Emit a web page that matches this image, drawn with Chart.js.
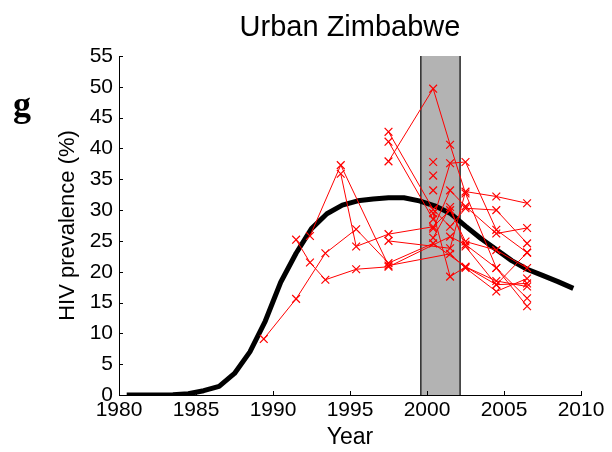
<!DOCTYPE html>
<html><head><meta charset="utf-8">
<script src="https://cdn.jsdelivr.net/npm/chart.js@4/dist/chart.umd.min.js"></script>
<style>html,body{margin:0;padding:0;background:#fff}#wrap{width:612px;height:452px}</style>
</head><body><div id="wrap"><canvas id="c" width="612" height="452"></canvas></div>
<script>
// ---- data ----
const titleText = "Urban Zimbabwe";
const panelLabel = "g";
const xTicks = [1980, 1985, 1990, 1995, 2000, 2005, 2010];
const yTicks = [0, 5, 10, 15, 20, 25, 30, 35, 40, 45, 50, 55];
const shadeStart = 1999.6, shadeEnd = 2002.15;

const modelYears = [1980.5,1981.5,1982.5,1983.5,1984.5,1985.5,1986.5,1987.5,1988.5,1989.5,1990.5,1991.5,1992.5,1993.5,1994.5,1995.5,1996.5,1997.5,1998.5,1999.5,2000.5,2001.5,2002.5,2003.5,2004.5,2005.5,2006.5,2007.5,2008.5,2009.5];
const modelPrev  = [0,0,0,0.05,0.2,0.7,1.4,3.5,7.0,12.0,18.3,23.0,27.0,29.4,30.8,31.5,31.8,32.0,32.0,31.5,30.7,29.5,27.4,25.4,23.6,21.8,20.4,19.4,18.4,17.3];

// antenatal clinic sites: [year, prevalence]
const site1  = [[1989.4,9.1],[1991.5,15.6],[1993.4,23.0],[1995.4,26.9],[1997.5,21.4],[2000.4,24.6],[2002.5,20.8],[2004.5,17.9],[2006.5,18.1]];
const site2  = [[1991.5,25.2],[1992.4,21.5],[1993.4,18.7],[1995.4,20.4],[1997.5,20.8],[2001.5,25.7],[2002.5,24.4],[2004.5,20.6],[2006.5,14.4]];
const site3  = [[1992.4,25.8],[1994.4,37.3],[1997.5,21.0],[2001.5,22.9],[2002.5,20.6],[2004.5,16.8],[2006.5,18.9]];
const site4  = [[1994.4,35.9],[1995.4,24.1],[1997.5,26.1],[2000.4,27.3],[2001.5,30.0],[2002.5,24.9],[2004.5,23.5],[2006.5,20.6]];
const site5  = [[1997.5,25.0],[2001.5,23.8],[2002.5,33.0],[2004.5,32.2],[2006.5,31.1]];
const site6  = [[1997.5,42.7],[2000.4,30.1],[2001.5,27.3],[2002.5,30.3],[2004.5,30.0],[2006.5,24.6]];
const site7  = [[1997.5,41.1],[2000.4,28.5],[2001.5,37.6],[2002.5,37.8],[2004.5,26.8],[2006.5,23.1]];
const site8  = [[1997.5,37.9],[2000.4,49.7],[2001.5,40.6],[2002.5,32.7],[2004.5,20.6],[2006.5,15.7]];
const site9  = [[2000.4,29.5],[2001.5,19.2],[2002.5,20.8],[2004.5,18.5],[2006.5,17.6]];
const site10 = [[2000.4,27.0],[2001.5,33.2],[2002.5,30.6],[2004.5,26.2],[2006.5,27.1]];
const site11 = [[2000.4,25.5],[2001.5,30.5],[2002.5,24.1],[2004.5,17.9],[2006.5,23.1]];
const site12 = [[2000.4,37.8]];
const site13 = [[2000.4,35.6]];
const site14 = [[2000.4,33.2]];
const sites = [site1,site2,site3,site4,site5,site6,site7,site8,site9,site10,site11,site12,site13,site14];

// ---- chart ----
const FONT = "'Liberation Sans', Arial, sans-serif";
const redSets = sites.map(s => ({
  data: s.map(p => ({x: p[0], y: p[1]})),
  borderColor: '#ff0000', backgroundColor: '#ff0000',
  borderWidth: 1, pointStyle: 'crossRot', pointRadius: 5.5, pointBorderWidth: 1.2,
  pointHoverRadius: 5.5, tension: 0, fill: false
}));
const modelSet = {
  data: modelYears.map((y, i) => ({x: y, y: modelPrev[i]})),
  borderColor: '#000', borderWidth: 5, pointRadius: 0, tension: 0, fill: false,
  borderCapStyle: 'butt', borderJoinStyle: 'round'
};

const decor = {
  id: 'decor',
  beforeDatasetsDraw(chart) {
    const {ctx, chartArea: a, scales: {x}} = chart;
    const x0 = x.getPixelForValue(shadeStart), x1 = x.getPixelForValue(shadeEnd);
    ctx.save();
    ctx.fillStyle = '#b3b3b3';
    ctx.fillRect(x0, a.top, x1 - x0, a.bottom - a.top);
    ctx.strokeStyle = '#000'; ctx.lineWidth = 1.2;
    ctx.beginPath();
    ctx.moveTo(x0, a.top); ctx.lineTo(x0, a.bottom);
    ctx.moveTo(x1, a.top); ctx.lineTo(x1, a.bottom);
    ctx.stroke();
    ctx.restore();
  },
  afterDraw(chart) {
    const {ctx, chartArea: a, scales: {x, y}} = chart;
    ctx.save();
    ctx.strokeStyle = '#000'; ctx.lineWidth = 1;
    ctx.beginPath();
    xTicks.forEach(v => { const px = Math.round(x.getPixelForValue(v)) + 0.5; ctx.moveTo(px, a.bottom); ctx.lineTo(px, a.bottom - 4); });
    yTicks.forEach(v => { const py = Math.round(y.getPixelForValue(v)) + 0.5; ctx.moveTo(a.left, py); ctx.lineTo(a.left + 4, py); });
    ctx.stroke();
    ctx.fillStyle = '#000';
    ctx.font = "29px " + FONT;
    ctx.textAlign = 'center'; ctx.textBaseline = 'middle';
    ctx.fillText(titleText, (a.left + a.right) / 2, 28);
    ctx.font = "bold 36px 'Liberation Serif', 'DejaVu Serif', serif";
    ctx.textBaseline = 'alphabetic'; ctx.textAlign = 'left';
    ctx.fillText(panelLabel, 13, 116);
    ctx.restore();
  }
};

new Chart(document.getElementById('c'), {
  type: 'line',
  data: { datasets: [...redSets, modelSet] },
  plugins: [decor],
  options: {
    responsive: false, animation: false, events: [],
    layout: { padding: { left: 0, right: 31, top: 56, bottom: 0 } },
    plugins: { legend: { display: false }, tooltip: { enabled: false }, title: { display: false } },
    scales: {
      x: {
        type: 'linear', min: 1980, max: 2010,
        afterBuildTicks: s => { s.ticks = xTicks.map(v => ({value: v})); },
        afterFit: s => { s.height = 57; },
        grid: { display: false, drawTicks: false },
        border: { display: true, color: '#000', width: 1 },
        ticks: { color: '#000', padding: 3, maxRotation: 0, autoSkip: false,
          font: { family: FONT, size: 21 }, callback: v => String(v) },
        title: { display: true, text: 'Year', color: '#000',
          font: { family: FONT, size: 23 }, padding: { top: 0, bottom: 1 } }
      },
      y: {
        type: 'linear', min: 0, max: 55,
        afterBuildTicks: s => { s.ticks = yTicks.map(v => ({value: v})); },
        afterFit: s => { s.width = 119; },
        grid: { display: false, drawTicks: false },
        border: { display: true, color: '#000', width: 1 },
        ticks: { color: '#000', padding: 6, autoSkip: false,
          font: { family: FONT, size: 21 }, callback: v => String(v) },
        title: { display: true, text: 'HIV prevalence (%)', color: '#000',
          font: { family: FONT, size: 22 }, padding: { top: 55, bottom: 0 } }
      }
    }
  }
});
</script></body></html>
